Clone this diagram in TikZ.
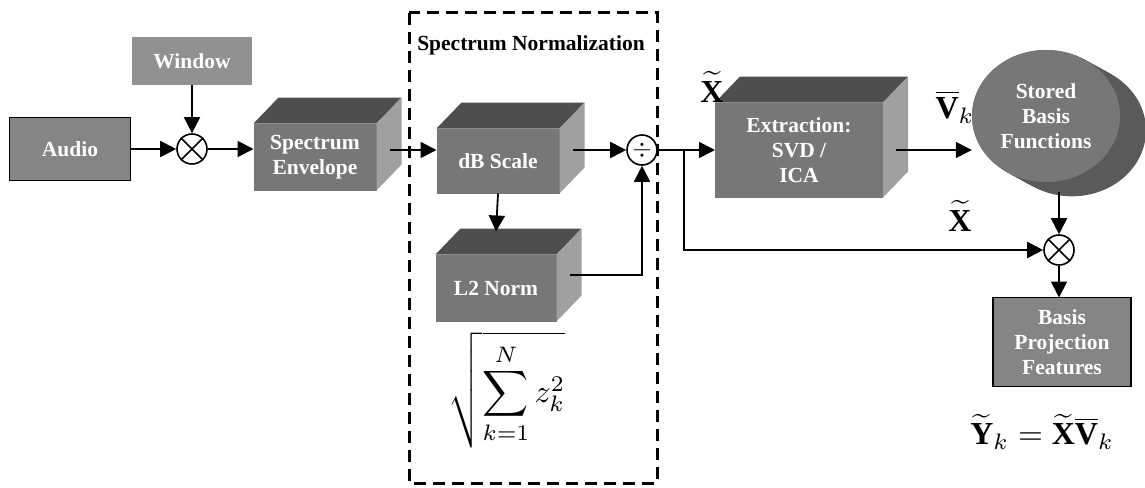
\documentclass[tikz,border=0pt]{standalone}
\usepackage{fontspec}
\setmainfont{Liberation Serif}
\usepackage{xcolor}
\definecolor{box-front}{HTML}{777777}
\definecolor{box-top}{HTML}{4E4E4E}
\definecolor{box-side}{HTML}{A0A0A0}
\definecolor{flat-gray}{HTML}{858585}
\definecolor{disk-back}{HTML}{5A5A5A}
\usepackage{tikz}
\usetikzlibrary{arrows.meta, calc, shapes.geometric}

\newcommand{\boxfont}{\fontsize{21.5}{25}\selectfont\bfseries}

\tikzset{
  wire/.style={line width=1.8pt, -{Triangle[length=16pt, width=16pt]}},
  line/.style={line width=1.8pt},
  flatbox/.style={rectangle, fill=flat-gray, text=white, font=\boxfont,
    align=center, inner sep=0pt, outer sep=0pt},
  cubebox/.style={rectangle, fill=box-front, text=white, font=\boxfont,
    align=center, inner sep=0pt, outer sep=0pt},
  opcircle/.style={circle, draw, line width=1.6pt, fill=white,
    minimum size=30pt, inner sep=0pt},
  normframe/.style={line width=3pt, dash pattern=on 12pt off 7pt},
  mathlabel/.style={inner sep=0pt, scale=3.2, transform shape},
}

% cube: name, x, y, width, height, text
\newcommand{\boxcube}[6]{%
  \node[cubebox, minimum width=#4pt, minimum height=#5pt] (#1) at (#2,#3) {#6};
  \fill[box-top] (#1.north west) -- ++(25,-26) -- ++(#4,0) -- (#1.north east) -- cycle;
  \fill[box-side] (#1.north east) -- ++(25,-26) -- ++(0,#5) -- (#1.south east) -- cycle;
  \coordinate (#1-side) at ($(#1.east)+(13,-13)$);
}

\begin{document}
\begin{tikzpicture}[x=1pt, y=-1pt]

    \useasboundingbox (0,0) rectangle (1145,487);

    % Spectrum normalization frame
    \draw[normframe] (409,13) rectangle (657,483);
    \node[font=\boxfont] (norm-title) at (531,45) {Spectrum Normalization};

    % Input side
    \node[flatbox, draw, line width=1.8pt, minimum width=121pt, minimum height=63pt] (audio) at (70,149) {Audio};
    \node[flatbox, fill=flat-gray!90, minimum width=120pt, minimum height=47pt] (window) at (192,61) {Window};
    \node[opcircle] (mul-a) at (192,149) {};
    \draw[line width=1.6pt] (mul-a.north west) -- (mul-a.south east) (mul-a.north east) -- (mul-a.south west);

    % Cubes
    \boxcube{env}{315}{157}{123}{67}{Spectrum\\Envelope}
    \boxcube{db}{498}{161}{123}{65}{dB Scale}
    \boxcube{l2}{496}{288}{121}{67}{L2 Norm}
    \boxcube{ext}{799}{150}{168}{95}{Extraction:\\SVD /\\ICA}

    \node[opcircle, font=\fontsize{26}{26}\selectfont] (div) at (642,150) {$\div$};

    % Stored basis functions
    \foreach \s in {0,2,...,26}
        \fill[disk-back] ($(1046,116)+(\s,0.55*\s)$) ellipse [x radius=74pt, y radius=66pt];
    \node[ellipse, fill=box-front, text=white, font=\boxfont, align=center, inner sep=0pt,
        minimum width=148pt, minimum height=132pt] (stored) at (1046,116) {Stored\\Basis\\Functions};
    \coordinate (stored-bot) at ($(stored.south)+(13,10)$);

    \node[opcircle] (mul-b) at (1059,250) {};
    \draw[line width=1.6pt] (mul-b.north west) -- (mul-b.south east) (mul-b.north east) -- (mul-b.south west);

    \node[flatbox, draw, line width=1.8pt, minimum width=138pt, minimum height=89pt] (bpf) at (1062,342) {Basis\\Projection\\Features};

    % Labels
    \node[mathlabel] (x-top) at (712,87) {$\widetilde{\mathbf{X}}$};
    \node[mathlabel] (v-bar) at (955,107) {$\overline{\mathbf{V}}_{k}$};
    \node[mathlabel] (x-low) at (960,216) {$\widetilde{\mathbf{X}}$};
    \node[mathlabel] (y-eq) at (1042,432) {$\widetilde{\mathbf{Y}}_{k}=\widetilde{\mathbf{X}}\overline{\mathbf{V}}_{k}$};
    \node[mathlabel] (norm-eq) at (507,390) {$\displaystyle\sqrt{\sum_{k=1}^{N} z_k^{2}}$};

    % Connections
    \draw[wire] (audio) -- (mul-a);
    \draw[wire] (window) -- (mul-a);
    \draw[wire] (mul-a) -- (mul-a -| env.west);
    \draw[wire] (env-side |- div) -- (db.west |- div);
    \draw[wire] (db-side |- div) -- (div);
    \draw[wire] (db.south) -- ($(l2.north)+(0,-23)$);
    \draw[wire] (l2-side) -| (div);
    \draw[wire] (div) -- (div -| ext.west);
    \coordinate (tap) at ($(div.east)+(26,0)$);
    \draw[wire] (tap) |- (mul-b);
    \draw[wire] (ext-side |- div) -- (div -| stored.west);
    \draw[wire] (mul-b |- stored-bot) -- (mul-b);
    \draw[wire] (mul-b) -- (mul-b |- bpf.north);

\end{tikzpicture}
\end{document}
